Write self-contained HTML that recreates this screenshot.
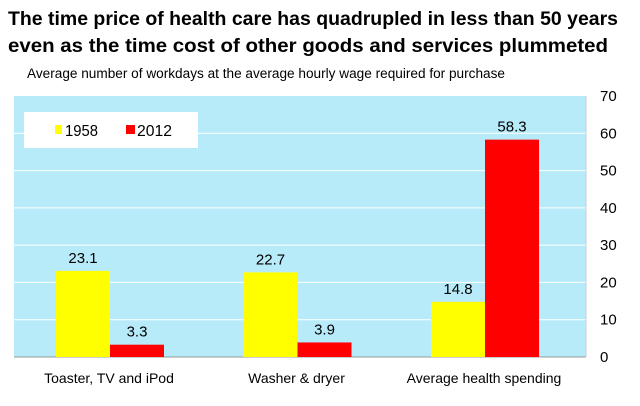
<!DOCTYPE html>
<html><head><meta charset="utf-8"><style>
body{margin:0;background:#fff;font-family:"Liberation Sans",sans-serif}
svg{display:block}
</style></head><body>
<svg width="640" height="406" viewBox="0 0 640 406">
<text x="8" y="25" font-size="19.5" font-weight="bold" textLength="610" lengthAdjust="spacingAndGlyphs">The time price of health care has quadrupled in less than 50 years</text>
<text x="8" y="52" font-size="19.5" font-weight="bold" textLength="600" lengthAdjust="spacingAndGlyphs">even as the time cost of other goods and services plummeted</text>
<text x="27" y="78" font-size="13.5" textLength="478" lengthAdjust="spacingAndGlyphs">Average number of workdays at the average hourly wage required for purchase</text>
<rect x="14" y="96" width="572" height="261" fill="#b7ebf9"/>
<g id="grid"></g><g id="bars"></g><g id="labels"></g>
<rect x="24" y="112" width="174" height="36" fill="#fff"/>
<rect x="55" y="125" width="7" height="9" fill="#ffff00"/>
<text x="65" y="136" font-size="16" textLength="33" lengthAdjust="spacingAndGlyphs">1958</text>
<rect x="126" y="125" width="9" height="9" fill="#ff0000"/>
<text x="137" y="136" font-size="16" textLength="35" lengthAdjust="spacingAndGlyphs">2012</text>
</svg>
<script>
const categories=["Toaster, TV and iPod","Washer & dryer","Average health spending"];
const values1958=[23.1,22.7,14.8];
const values2012=[3.3,3.9,58.3];
const yTicks=[0,10,20,30,40,50,60,70];
const NS="http://www.w3.org/2000/svg";
const y=v=>357-v*(261/70);
const cx=i=>110+i*187.5;
const grid=document.getElementById('grid'),bars=document.getElementById('bars'),labels=document.getElementById('labels');
function mk(tag,attrs,parent,text){const e=document.createElementNS(NS,tag);for(const k in attrs)e.setAttribute(k,attrs[k]);if(text!==undefined)e.textContent=text;parent.appendChild(e);return e;}
yTicks.forEach(t=>{
 if(t>0&&t<70){const l=mk('line',{x1:14,x2:586,y1:y(t),y2:y(t),stroke:'#fff','stroke-width':1},grid);
 
 }
 const tx=mk('text',{x:600,y:y(t)+5,'font-size':15},labels,String(t));
 
 
});
const ax=mk('line',{x1:14,x2:586,y1:357,y2:357,stroke:'#999'},grid);


const ax2=mk('line',{x1:586,x2:586,y1:96,y2:357,stroke:'#ccc'},grid);


categories.forEach((c,i)=>{
 [[values1958[i],'#ffff00',-54,'1958'],[values2012[i],'#ff0000',0,'2012']].forEach(([v,col,off,s])=>{
  const r=mk('rect',{x:cx(i)+off,y:y(v),width:54,height:357-y(v),fill:col},bars);
  
  
  const t=mk('text',{x:cx(i)+off+27,y:y(v)-8,'font-size':15,'text-anchor':'middle'},labels,v.toFixed(1));
  
  
 });
 const cl=mk('text',{x:cx(i)-1,y:383,'font-size':14,'text-anchor':'middle'},labels,c);
 
 
});
</script>
</body></html>
